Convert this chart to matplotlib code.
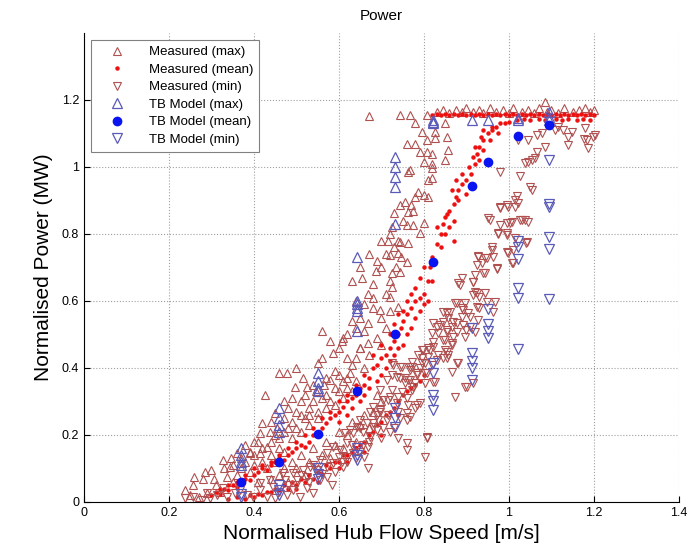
# plot.py
# Normalised power curve: measured max/mean/min against TB model
import matplotlib
matplotlib.use('Agg')
import matplotlib.pyplot as plt
import numpy as np

plt.rcParams['font.family'] = ['Liberation Sans', 'DejaVu Sans']

# measured maximum (x = normalised hub flow speed, y = normalised power)
meas_max = [
    (0.238, 0.036), (0.257, 0.05), (0.26, 0.075), (0.28, 0.07), (0.285, 0.09), (0.30, 0.095),
    (0.327, 0.125), (0.31, 0.05), (0.29, 0.027), (0.27, 0.015), (0.36, 0.146), (0.344, 0.104),
    (0.336, 0.075), (0.25, 0.02), (0.32, 0.03), (0.35, 0.06), (0.33, 0.10), (0.305, 0.07),
    (0.345, 0.13), (0.37, 0.10), (0.36, 0.08), (0.38, 0.12), (0.39, 0.15), (0.40, 0.18),
    (0.38, 0.17), (0.40, 0.14), (0.41, 0.18), (0.414, 0.206), (0.42, 0.235), (0.43, 0.165),
    (0.437, 0.21), (0.414, 0.146), (0.39, 0.146), (0.426, 0.32), (0.45, 0.265), (0.44, 0.24),
    (0.455, 0.22), (0.46, 0.19), (0.47, 0.25), (0.48, 0.28), (0.47, 0.30), (0.459, 0.385),
    (0.478, 0.385), (0.496, 0.343), (0.515, 0.37), (0.525, 0.343), (0.49, 0.31), (0.50, 0.27),
    (0.51, 0.30), (0.52, 0.32), (0.50, 0.22), (0.52, 0.25), (0.53, 0.28), (0.54, 0.30),
    (0.545, 0.33), (0.55, 0.27), (0.56, 0.31), (0.565, 0.35), (0.58, 0.364), (0.60, 0.38),
    (0.626, 0.385), (0.59, 0.34), (0.57, 0.32), (0.58, 0.30), (0.60, 0.33), (0.61, 0.36),
    (0.62, 0.34), (0.48, 0.22), (0.46, 0.16), (0.44, 0.14), (0.42, 0.12), (0.43, 0.10),
    (0.45, 0.12), (0.47, 0.15), (0.49, 0.19), (0.51, 0.21), (0.53, 0.23), (0.55, 0.25),
    (0.57, 0.28), (0.59, 0.29), (0.61, 0.31), (0.63, 0.33), (0.64, 0.36), (0.66, 0.40),
    (0.50, 0.40), (0.55, 0.415), (0.56, 0.43), (0.586, 0.445), (0.60, 0.46), (0.62, 0.43),
    (0.64, 0.43), (0.63, 0.41), (0.65, 0.46), (0.607, 0.48), (0.58, 0.48), (0.56, 0.51),
    (0.61, 0.49), (0.46, 0.08), (0.50, 0.10), (0.53, 0.12), (0.56, 0.14), (0.59, 0.17),
    (0.62, 0.20), (0.65, 0.23), (0.68, 0.27), (0.48, 0.06), (0.52, 0.08), (0.55, 0.10),
    (0.58, 0.13), (0.61, 0.16), (0.64, 0.18), (0.67, 0.22), (0.70, 0.30),
    (0.35, 0.11), (0.37, 0.13), (0.40, 0.11), (0.42, 0.16), (0.44, 0.18), (0.45, 0.20),
    (0.47, 0.21), (0.49, 0.24), (0.51, 0.26), (0.53, 0.26), (0.54, 0.35), (0.57, 0.37),
    (0.59, 0.39), (0.62, 0.37), (0.49, 0.12), (0.51, 0.14), (0.54, 0.16), (0.57, 0.18),
    (0.60, 0.21), (0.63, 0.24), (0.66, 0.26), (0.69, 0.32), (0.44, 0.07), (0.47, 0.10),
    (0.41, 0.06), (0.39, 0.09),
    (0.70, 0.78), (0.67, 0.74), (0.65, 0.70), (0.63, 0.66), (0.654, 0.67), (0.68, 0.65),
    (0.70, 0.70), (0.687, 0.69), (0.668, 0.62), (0.68, 0.58), (0.696, 0.573), (0.70, 0.55),
    (0.65, 0.55), (0.63, 0.54), (0.668, 0.534), (0.66, 0.51), (0.69, 0.49), (0.668, 0.475),
    (0.65, 0.46), (0.64, 0.60), (0.66, 0.59), (0.68, 0.61), (0.71, 0.62), (0.72, 0.66),
    (0.71, 0.74), (0.69, 0.72), (0.67, 0.44), (0.70, 0.47), (0.71, 0.52), (0.72, 0.57),
    (0.64, 0.52), (0.62, 0.50), (0.715, 0.78), (0.744, 0.776), (0.762, 0.773), (0.72, 0.737),
    (0.739, 0.743), (0.76, 0.716), (0.725, 0.684), (0.744, 0.687), (0.725, 0.642),
    (0.79, 0.803), (0.72, 0.612), (0.739, 0.582), (0.72, 0.80), (0.73, 0.76), (0.74, 0.78),
    (0.75, 0.84), (0.735, 0.70), (0.745, 0.73), (0.725, 0.82), (0.76, 0.827), (0.774, 0.827),
    (0.80, 0.833), (0.73, 0.863), (0.762, 0.866), (0.774, 0.87), (0.744, 0.887), (0.77, 0.887),
    (0.755, 0.895), (0.78, 0.91), (0.786, 0.925), (0.80, 0.916), (0.81, 0.91), (0.81, 0.96),
    (0.82, 0.967), (0.82, 0.997), (0.762, 0.985), (0.767, 0.99), (0.80, 1.015), (0.82, 1.01),
    (0.85, 1.02), (0.79, 1.045), (0.807, 1.045), (0.82, 1.04), (0.856, 1.05), (0.76, 1.07),
    (0.78, 1.07), (0.807, 1.08), (0.826, 1.087), (0.854, 1.09), (0.795, 1.105), (0.826, 1.105),
    (0.78, 1.13), (0.85, 1.13), (0.744, 1.155), (0.767, 1.155), (0.807, 1.155), (0.67, 1.152),
    (0.83, 1.165), (0.845, 1.17), (0.86, 1.16), (0.875, 1.17), (0.89, 1.165), (0.90, 1.175),
    (0.915, 1.165), (0.93, 1.17), (0.94, 1.16), (0.955, 1.175), (0.97, 1.165), (0.985, 1.17),
    (1.00, 1.16), (1.01, 1.175), (1.03, 1.165), (1.045, 1.17), (1.06, 1.16), (1.07, 1.175),
    (1.085, 1.195), (1.09, 1.165), (1.10, 1.17), (1.115, 1.16), (1.13, 1.175), (1.15, 1.165),
    (1.165, 1.17), (1.18, 1.175), (1.19, 1.165), (1.20, 1.17),
]

# measured mean
meas_mean = [
    (0.30, 0.02), (0.31, 0.03), (0.32, 0.025), (0.33, 0.04), (0.34, 0.035), (0.35, 0.05),
    (0.36, 0.045), (0.37, 0.06), (0.38, 0.07), (0.39, 0.065), (0.40, 0.08), (0.41, 0.09),
    (0.42, 0.10), (0.43, 0.095), (0.44, 0.11), (0.45, 0.12), (0.46, 0.13), (0.47, 0.125),
    (0.48, 0.14), (0.49, 0.15), (0.50, 0.16), (0.51, 0.17), (0.52, 0.165), (0.53, 0.18),
    (0.54, 0.20), (0.55, 0.21), (0.56, 0.22), (0.57, 0.235), (0.58, 0.25), (0.59, 0.26),
    (0.60, 0.27), (0.61, 0.285), (0.62, 0.30), (0.63, 0.31), (0.64, 0.32), (0.65, 0.34),
    (0.66, 0.35), (0.67, 0.37), (0.68, 0.40), (0.69, 0.41), (0.70, 0.43), (0.71, 0.44),
    (0.72, 0.46), (0.73, 0.48), (0.74, 0.50), (0.745, 0.52), (0.75, 0.54), (0.76, 0.56),
    (0.77, 0.58), (0.78, 0.60), (0.79, 0.61), (0.80, 0.62), (0.81, 0.66), (0.815, 0.70),
    (0.82, 0.73), (0.83, 0.77), (0.84, 0.80), (0.845, 0.83), (0.85, 0.85), (0.86, 0.87),
    (0.87, 0.89), (0.875, 0.91), (0.88, 0.93), (0.89, 0.95), (0.90, 0.96), (0.91, 0.98),
    (0.92, 1.01), (0.925, 1.04), (0.93, 1.06), (0.94, 1.08), (0.95, 1.10), (0.96, 1.11),
    (0.97, 1.12), (0.98, 1.13), (0.99, 1.13), (1.00, 1.135),
    (0.80, 0.70), (0.79, 0.67), (0.82, 0.66), (0.78, 0.64), (0.84, 0.76), (0.85, 0.80),
    (0.83, 0.82), (0.86, 0.82), (0.87, 0.84), (0.855, 0.86), (0.88, 0.90), (0.865, 0.93),
    (0.875, 0.96), (0.89, 0.98), (0.90, 0.92), (0.91, 0.95), (0.905, 1.00), (0.915, 1.03),
    (0.92, 1.06), (0.93, 1.02), (0.94, 1.05), (0.935, 1.09), (0.955, 1.08), (0.96, 1.12),
    (0.975, 1.10), (0.94, 1.11), (0.87, 0.78),
    (0.60, 0.24), (0.62, 0.26), (0.63, 0.28), (0.65, 0.30), (0.66, 0.32), (0.67, 0.34),
    (0.69, 0.36), (0.70, 0.38), (0.71, 0.40), (0.72, 0.42), (0.73, 0.44), (0.74, 0.46),
    (0.75, 0.47), (0.76, 0.50), (0.77, 0.52), (0.78, 0.55), (0.79, 0.57), (0.80, 0.59),
    (0.81, 0.60), (0.70, 0.47), (0.72, 0.50), (0.73, 0.53), (0.75, 0.57), (0.76, 0.60),
    (0.77, 0.62), (0.74, 0.56), (0.68, 0.44), (0.66, 0.38), (0.64, 0.35), (0.62, 0.32),
    (0.60, 0.30), (0.58, 0.27), (0.56, 0.25), (0.54, 0.22), (0.52, 0.20), (0.50, 0.18),
    (0.48, 0.16), (0.46, 0.14), (0.44, 0.12), (0.42, 0.11), (0.40, 0.10), (0.38, 0.08),
    (0.36, 0.06), (0.34, 0.05), (0.32, 0.04),
    (0.38, 0.01), (0.40, 0.015), (0.42, 0.02), (0.44, 0.03), (0.46, 0.035), (0.48, 0.04),
    (0.50, 0.05), (0.52, 0.06), (0.54, 0.07), (0.56, 0.085), (0.58, 0.10), (0.60, 0.12),
    (0.62, 0.14), (0.64, 0.16), (0.66, 0.18), (0.68, 0.21), (0.70, 0.24), (0.72, 0.27),
    (0.74, 0.30), (0.76, 0.33), (0.78, 0.35), (0.45, 0.04), (0.47, 0.05), (0.49, 0.06),
    (0.51, 0.07), (0.53, 0.08), (0.55, 0.09), (0.57, 0.11), (0.59, 0.12), (0.61, 0.14),
    (0.63, 0.15), (0.65, 0.17), (0.67, 0.20), (0.69, 0.23), (0.71, 0.26), (0.73, 0.28),
    (0.75, 0.32), (0.77, 0.34), (0.79, 0.36), (0.80, 0.38), (0.43, 0.03), (0.41, 0.025),
    (0.39, 0.02), (0.36, 0.015), (0.34, 0.01), (0.50, 0.04), (0.55, 0.06), (0.60, 0.10),
    (0.62, 0.12), (0.66, 0.15), (0.70, 0.20), (0.74, 0.26),
    (0.82, 1.155), (0.83, 1.157), (0.84, 1.155), (0.85, 1.158), (0.86, 1.155), (0.87, 1.157),
    (0.88, 1.155), (0.89, 1.158), (0.90, 1.155), (0.91, 1.157), (0.92, 1.155), (0.93, 1.158),
    (0.94, 1.155), (0.95, 1.157), (0.96, 1.155), (0.97, 1.158), (0.98, 1.155), (0.99, 1.157),
    (1.00, 1.155), (1.01, 1.158), (1.02, 1.155), (1.03, 1.157), (1.04, 1.155), (1.05, 1.158),
    (1.06, 1.155), (1.07, 1.157), (1.08, 1.155), (1.09, 1.158), (1.10, 1.155), (1.11, 1.157),
    (1.12, 1.155), (1.13, 1.158), (1.14, 1.155), (1.15, 1.157), (1.16, 1.155), (1.17, 1.158),
    (1.18, 1.155), (1.19, 1.157), (1.20, 1.155),
    (1.02, 1.14), (1.035, 1.142), (1.05, 1.14), (1.07, 1.142), (1.085, 1.14), (1.11, 1.142),
    (1.125, 1.14), (1.14, 1.142), (1.16, 1.14), (1.175, 1.142), (1.19, 1.14),
]

# measured minimum
meas_min = [
    (0.238, 0.012), (0.257, 0.015), (0.278, 0.006), (0.296, 0.012), (0.29, 0.027), (0.313, 0.021),
    (0.336, 0.015), (0.355, 0.027), (0.384, 0.021), (0.398, 0.015), (0.414, 0.036), (0.43, 0.015),
    (0.449, 0.012), (0.478, 0.021), (0.492, 0.036), (0.508, 0.015), (0.525, 0.042), (0.539, 0.027),
    (0.414, 0.057), (0.438, 0.066), (0.473, 0.066), (0.501, 0.066), (0.525, 0.075), (0.555, 0.066),
    (0.572, 0.075), (0.584, 0.051), (0.548, 0.096), (0.572, 0.104), (0.586, 0.116), (0.607, 0.119),
    (0.609, 0.104), (0.619, 0.134), (0.602, 0.155), (0.633, 0.146), (0.649, 0.149), (0.668, 0.101),
    (0.656, 0.17), (0.668, 0.164), (0.673, 0.194), (0.689, 0.215), (0.692, 0.245), (0.696, 0.269),
    (0.649, 0.221), (0.68, 0.236), (0.633, 0.206), (0.619, 0.176), (0.586, 0.164), (0.572, 0.146),
    (0.555, 0.125), (0.532, 0.104), (0.515, 0.096), (0.492, 0.087), (0.468, 0.087), (0.445, 0.045),
    (0.367, 0.036), (0.327, 0.042), (0.46, 0.03), (0.50, 0.05), (0.53, 0.06), (0.56, 0.085),
    (0.59, 0.09), (0.62, 0.12), (0.64, 0.13), (0.66, 0.135), (0.70, 0.19), (0.72, 0.21),
    (0.54, 0.11), (0.51, 0.08), (0.48, 0.05), (0.60, 0.135), (0.63, 0.17), (0.67, 0.18),
    (0.88, 0.654), (0.915, 0.657), (0.925, 0.624), (0.943, 0.624), (0.878, 0.594), (0.892, 0.573),
    (0.925, 0.582), (0.962, 0.567), (0.854, 0.564), (0.868, 0.537), (0.821, 0.534), (0.838, 0.528),
    (0.892, 0.528), (0.908, 0.522), (0.819, 0.504), (0.854, 0.507), (0.878, 0.507), (0.845, 0.484),
    (0.821, 0.478), (0.866, 0.475), (0.798, 0.454), (0.814, 0.454), (0.854, 0.448), (0.795, 0.43),
    (0.845, 0.43), (0.772, 0.403), (0.802, 0.415), (0.748, 0.403), (0.727, 0.409), (0.767, 0.394),
    (0.79, 0.40), (0.736, 0.373), (0.755, 0.37), (0.784, 0.385), (0.807, 0.385), (0.866, 0.388),
    (0.713, 0.364), (0.767, 0.364), (0.774, 0.343), (0.873, 0.313), (0.697, 0.334), (0.72, 0.313),
    (0.704, 0.304), (0.736, 0.296), (0.762, 0.29), (0.779, 0.281), (0.68, 0.284), (0.697, 0.275),
    (0.673, 0.269), (0.689, 0.26), (0.713, 0.245), (0.744, 0.25), (0.76, 0.245), (0.65, 0.245),
    (0.666, 0.236), (0.642, 0.224), (0.68, 0.224), (0.704, 0.22), (0.73, 0.22), (0.626, 0.215),
    (0.656, 0.209), (0.614, 0.206), (0.807, 0.194),
    (0.725, 0.379), (0.744, 0.37), (0.762, 0.364), (0.784, 0.379), (0.802, 0.385), (0.826, 0.358),
    (0.802, 0.355), (0.779, 0.355), (0.755, 0.355), (0.896, 0.343), (0.725, 0.334), (0.748, 0.328),
    (0.772, 0.334), (0.739, 0.313), (0.76, 0.31), (0.715, 0.304), (0.784, 0.29), (0.79, 0.296),
    (0.739, 0.269), (0.76, 0.266), (0.767, 0.254), (0.715, 0.26), (0.739, 0.191), (0.807, 0.191),
    (0.76, 0.176), (0.76, 0.155), (0.802, 0.134),
    (0.974, 0.80), (0.995, 0.797), (1.04, 0.773), (0.96, 0.76), (0.997, 0.743), (0.927, 0.734),
    (0.943, 0.728), (0.962, 0.731), (0.936, 0.713), (0.925, 0.707), (1.01, 0.713), (0.972, 0.695),
    (0.943, 0.683), (0.92, 0.678), (0.889, 0.668), (0.915, 0.657), (0.885, 0.648), (0.92, 0.627),
    (0.915, 0.618), (0.93, 0.612), (0.948, 0.597), (0.967, 0.597), (0.873, 0.594), (0.896, 0.594),
    (0.889, 0.58), (0.845, 0.567), (0.861, 0.567), (0.904, 0.564), (0.93, 0.58), (0.857, 0.549),
    (0.889, 0.552), (0.908, 0.552), (0.927, 0.543), (0.845, 0.537), (0.866, 0.522), (0.878, 0.534),
    (0.83, 0.522), (0.854, 0.513), (0.90, 0.513), (0.92, 0.507), (0.833, 0.504), (0.868, 0.493),
    (0.896, 0.493), (0.866, 0.469), (0.821, 0.463), (0.795, 0.454), (0.81, 0.46), (0.85, 0.454),
    (0.786, 0.44), (0.81, 0.433), (0.833, 0.44), (0.854, 0.43), (0.878, 0.415), (0.772, 0.418),
    (0.795, 0.415), (0.819, 0.409), (0.725, 0.415), (0.744, 0.403), (0.767, 0.403),
    (0.955, 0.842), (0.979, 0.827), (1.002, 0.833), (0.974, 0.803), (0.995, 0.803), (1.014, 0.788),
    (1.042, 0.776), (1.031, 0.842), (1.045, 0.836), (0.979, 0.878), (0.995, 0.887), (1.021, 0.893),
    (1.009, 0.752), (0.995, 0.746), (1.007, 0.713), (0.972, 0.698), (0.927, 0.731), (0.96, 0.752),
    (0.948, 0.728), (0.939, 0.683), (0.901, 0.343), (0.915, 0.355), (0.849, 0.484), (0.856, 0.439),
    (0.83, 0.424), (0.88, 0.415), (0.821, 0.358),
    (0.979, 0.985), (1.026, 0.973), (1.045, 1.015), (1.061, 1.027), (1.066, 1.045), (1.085, 1.06),
    (1.021, 1.08), (1.045, 1.08), (1.066, 1.096), (1.078, 1.10), (1.108, 1.11), (1.127, 1.11),
    (1.139, 1.09), (1.148, 1.105), (1.179, 1.116), (1.183, 1.08), (1.202, 1.096), (1.186, 1.057),
    (1.139, 1.066), (1.115, 1.12), (1.054, 0.931), (1.049, 0.94), (1.019, 0.913), (1.014, 0.90),
    (0.979, 0.88), (0.998, 0.88), (1.014, 0.88), (1.007, 0.836), (0.995, 0.833), (1.026, 0.842),
    (1.038, 0.842), (0.951, 0.848), (1.038, 1.012), (1.054, 1.021), (1.176, 1.084), (1.198, 1.09),
]

# TB model: flow speed of each case and the predicted powers
tb_speed = [0.369, 0.459, 0.551, 0.642, 0.732, 0.821, 0.913, 0.951, 1.021, 1.094]
tb_mean = [0.06, 0.119, 0.203, 0.331, 0.501, 0.716, 0.943, 1.015, 1.093, 1.125]
tb_max = [
    [0.16, 0.14, 0.12, 0.11],
    [0.28, 0.25, 0.23, 0.21],
    [0.385, 0.36, 0.34, 0.33],
    [0.73, 0.60, 0.59, 0.58, 0.57, 0.51],
    [1.03, 1.00, 0.97, 0.94, 0.83],
    [1.14, 1.135, 1.13],
    [1.14],
    [1.14],
    [1.145, 1.14],
    [1.165, 1.15, 1.14],
]
tb_min = [
    [0.015, 0.025],
    [0.05, 0.035, 0.02],
    [0.10, 0.085, 0.07],
    [0.16, 0.14, 0.125],
    [0.28, 0.25, 0.225],
    [0.415, 0.385, 0.32, 0.30, 0.275],
    [0.52, 0.445, 0.42, 0.40, 0.365],
    [0.576, 0.53, 0.51, 0.49],
    [0.78, 0.76, 0.725, 0.64, 0.61, 0.457],
    [1.02, 0.89, 0.88, 0.79, 0.755, 0.606],
]

meas_max = np.array(meas_max)
meas_mean = np.array(meas_mean)
meas_min = np.array(meas_min)
tbmax_x = [s for s, v in zip(tb_speed, tb_max) for _ in v]
tbmax_y = [p for v in tb_max for p in v]
tbmin_x = [s for s, v in zip(tb_speed, tb_min) for _ in v]
tbmin_y = [p for v in tb_min for p in v]

meas_col = '#b05050'
tb_col = '#5a5ab8'

fig = plt.figure(figsize=(6.9, 5.5), dpi=100)
ax = fig.add_axes([0.1217, 0.0873, 0.8623, 0.8527])

ax.plot(meas_max[:, 0], meas_max[:, 1], '^', ls='none', mfc='none', mec=meas_col,
        ms=6, mew=0.8, label='Measured (max)')
ax.plot(meas_mean[:, 0], meas_mean[:, 1], 'o', ls='none', color='#ee1010',
        ms=2.2, label='Measured (mean)')
ax.plot(meas_min[:, 0], meas_min[:, 1], 'v', ls='none', mfc='none', mec=meas_col,
        ms=6, mew=0.8, label='Measured (min)')
ax.plot(tbmax_x, tbmax_y, '^', ls='none', mfc='none', mec=tb_col,
        ms=7.5, mew=0.9, label='TB Model (max)')
ax.plot(tb_speed, tb_mean, 'o', ls='none', color='#0a14f0', ms=6, label='TB Model (mean)')
ax.plot(tbmin_x, tbmin_y, 'v', ls='none', mfc='none', mec=tb_col,
        ms=7.5, mew=0.9, label='TB Model (min)')

# axes like the matlab figure: box off, dotted grid, ticks inside
ax.set_xlim(0, 1.4)
ax.set_ylim(0, 1.4)
ax.set_xticks(np.arange(0, 1.41, 0.2))
ax.set_xticklabels(['0', '0.2', '0.4', '0.6', '0.8', '1', '1.2', '1.4'])
ax.set_yticks(np.arange(0, 1.21, 0.2))
ax.set_yticklabels(['0', '0.2', '0.4', '0.6', '0.8', '1', '1.2'])
ax.tick_params(direction='in', labelsize=9, length=4)
ax.spines['top'].set_visible(False)
ax.spines['right'].set_visible(False)
ax.grid(True, ls=':', color='#a0a0a0', lw=0.8)

ax.set_xlabel('Normalised Hub Flow Speed [m/s]', fontsize=15, labelpad=4)
ax.set_ylabel('Normalised Power (MW)', fontsize=15, labelpad=6)
ax.set_title('Power', fontsize=11, pad=9)

leg = ax.legend(loc='upper left', bbox_to_anchor=(0.012, 0.985), borderaxespad=0,
                fontsize=9.5, numpoints=1, fancybox=False, framealpha=1,
                edgecolor='#808080', labelspacing=0.4, handlelength=3.0,
                handletextpad=0.9, borderpad=0.45)
leg.get_frame().set_linewidth(0.8)

fig.savefig('out.png', dpi=100)
